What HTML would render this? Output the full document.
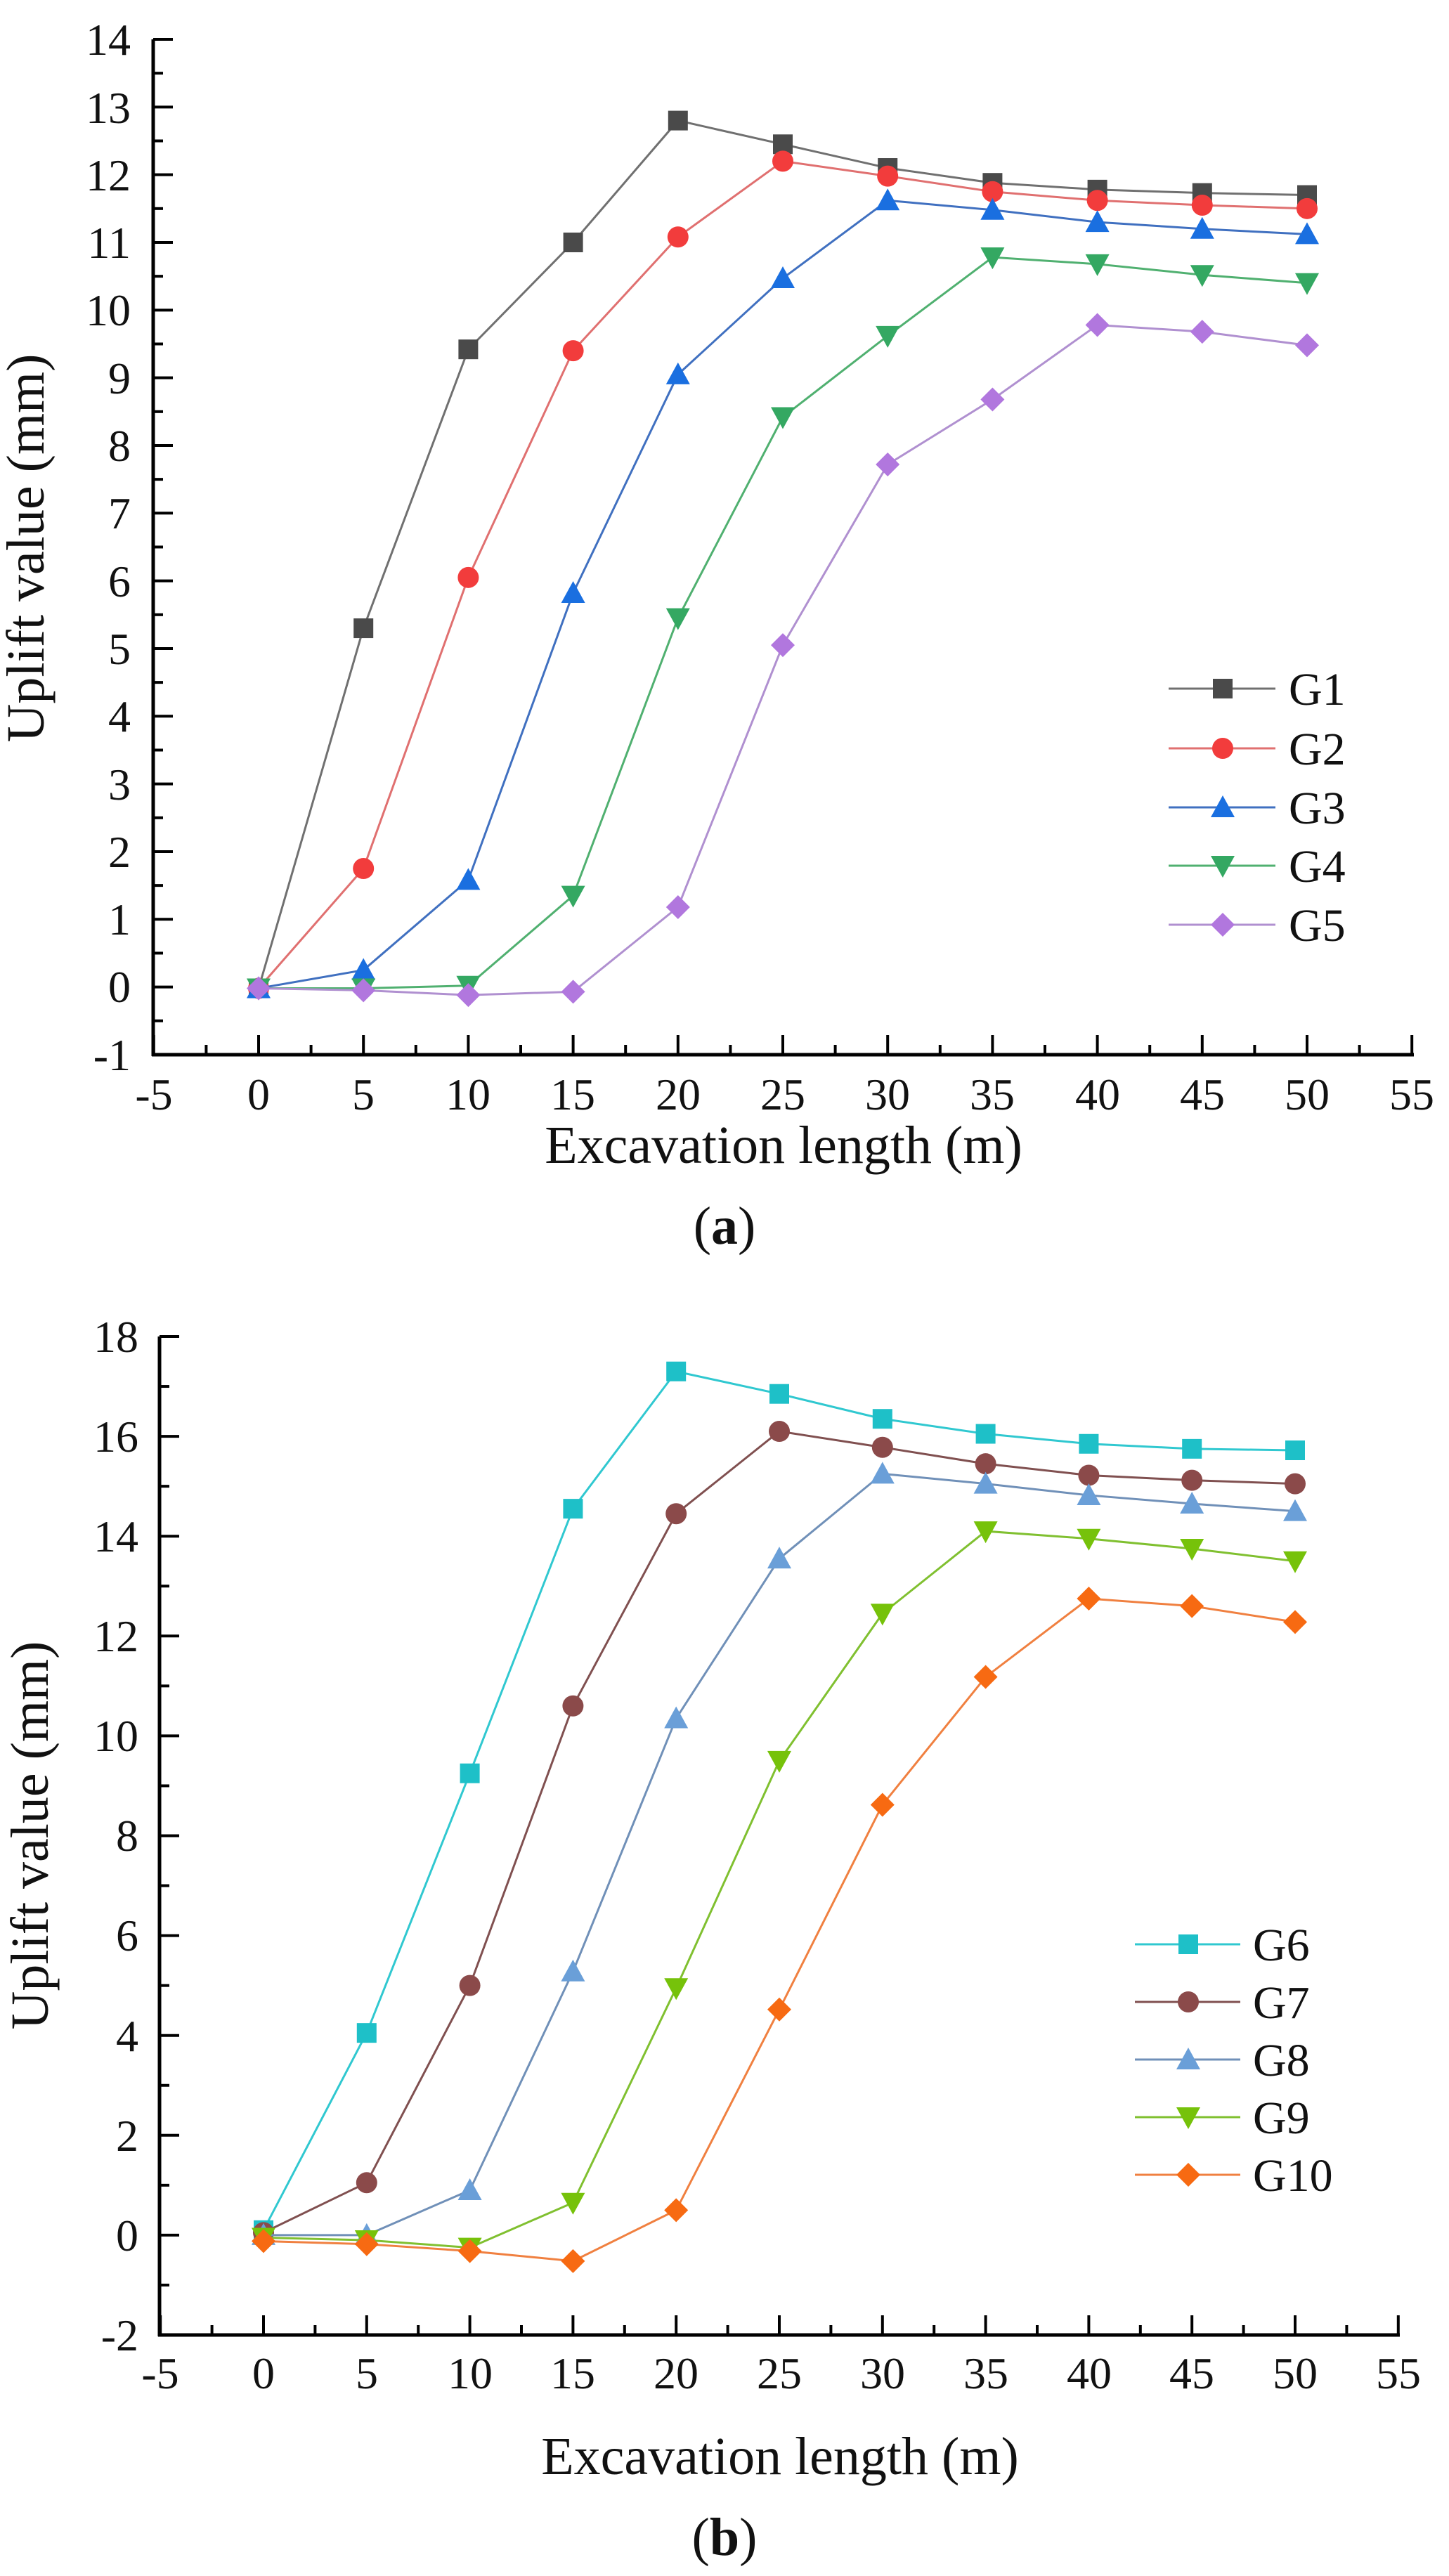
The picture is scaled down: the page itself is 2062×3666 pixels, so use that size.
<!DOCTYPE html>
<html><head><meta charset="utf-8"><style>
html,body{margin:0;padding:0;background:#fff;}
svg{display:block;}
text{font-family:"Liberation Serif","DejaVu Serif",serif;}
</style></head><body>
<svg id="s" width="2062" height="3666" xmlns="http://www.w3.org/2000/svg" font-family="Liberation Serif, DejaVu Serif, serif">
<g font-size="64" fill="#111">
<g text-anchor="end">
<text x="186" y="78">14</text><text x="186" y="175">13</text><text x="186" y="271">12</text><text x="186" y="367">11</text>
<text x="186" y="463">10</text><text x="186" y="560">9</text><text x="186" y="656">8</text><text x="186" y="752">7</text>
<text x="186" y="849">6</text><text x="186" y="945">5</text><text x="186" y="1041">4</text><text x="186" y="1138">3</text>
<text x="186" y="1234">2</text><text x="186" y="1330">1</text><text x="186" y="1426">0</text><text x="186" y="1523">-1</text>
</g>
<g text-anchor="middle">
<text x="219" y="1579">-5</text><text x="368" y="1579">0</text><text x="517" y="1579">5</text><text x="666" y="1579">10</text>
<text x="815" y="1579">15</text><text x="965" y="1579">20</text><text x="1114" y="1579">25</text><text x="1263" y="1579">30</text>
<text x="1412" y="1579">35</text><text x="1562" y="1579">40</text><text x="1711" y="1579">45</text><text x="1860" y="1579">50</text><text x="2009" y="1579">55</text>
</g>
<g text-anchor="end">
<text x="197" y="1924">18</text><text x="197" y="2066">16</text><text x="197" y="2208">14</text><text x="197" y="2350">12</text>
<text x="197" y="2492">10</text><text x="197" y="2634">8</text><text x="197" y="2776">6</text><text x="197" y="2919">4</text>
<text x="197" y="3061">2</text><text x="197" y="3203">0</text><text x="197" y="3345">-2</text>
</g>
<g text-anchor="middle">
<text x="228" y="3399">-5</text><text x="375" y="3399">0</text><text x="522" y="3399">5</text><text x="669" y="3399">10</text>
<text x="815" y="3399">15</text><text x="962" y="3399">20</text><text x="1109" y="3399">25</text><text x="1256" y="3399">30</text>
<text x="1403" y="3399">35</text><text x="1550" y="3399">40</text><text x="1696" y="3399">45</text><text x="1843" y="3399">50</text><text x="1990" y="3399">55</text>
</g>
</g>
<g font-size="76" fill="#111" text-anchor="middle">
<text x="1115" y="1655">Excavation length (m)</text>
<text x="1110" y="3521">Excavation length (m)</text>
<text transform="translate(62,780) rotate(-90)">Uplift value (mm)</text>
<text transform="translate(68,2612) rotate(-90)">Uplift value (mm)</text>
<text x="1031" y="1770">(<tspan font-weight="bold">a</tspan>)</text>
<text x="1031" y="3636">(<tspan font-weight="bold">b</tspan>)</text>
</g>
<g font-size="66" fill="#111">
<text x="1834" y="1003">G1</text><text x="1834" y="1088">G2</text><text x="1834" y="1172">G3</text><text x="1834" y="1255">G4</text><text x="1834" y="1339">G5</text>
<text x="1783" y="2790">G6</text><text x="1783" y="2872">G7</text><text x="1783" y="2954">G8</text><text x="1783" y="3036">G9</text><text x="1783" y="3118">G10</text>
</g>
<g id="dyn"></g>
</svg>
<script>
var NS="http://www.w3.org/2000/svg",g=document.getElementById('dyn');
function el(t,a){var e=document.createElementNS(NS,t);for(var k in a)e.setAttribute(k,a[k]);g.appendChild(e);return e;}
function axes(x0,y0,x1,y1,xm,ym){
 el('line',{x1:x0,y1:y0,x2:x0,y2:y1+2,stroke:'#000','stroke-width':5});
 el('line',{x1:x0-2,y1:y1,x2:x1,y2:y1,stroke:'#000','stroke-width':5});
 xm.forEach(function(p,i){var L=(i%2==0)?28:14;el('line',{x1:p,y1:y1,x2:p,y2:y1-L,stroke:'#000','stroke-width':4});});
 ym.forEach(function(p,i){var L=(i%2==0)?28:14;el('line',{x1:x0,y1:p,x2:x0+L,y2:p,stroke:'#000','stroke-width':4});});
}
function marker(type,x,y,c,s){
 s=s||14;
 if(type=='sq')el('rect',{x:x-s,y:y-s,width:2*s,height:2*s,fill:c});
 else if(type=='ci')el('circle',{cx:x,cy:y,r:s+1,fill:c});
 else if(type=='up')el('polygon',{points:(x)+','+(y-s-3)+' '+(x-s-3)+','+(y+s)+' '+(x+s+3)+','+(y+s),fill:c});
 else if(type=='dn')el('polygon',{points:(x)+','+(y+s+3)+' '+(x-s-3)+','+(y-s)+' '+(x+s+3)+','+(y-s),fill:c});
 else el('polygon',{points:x+','+(y-s-3)+' '+(x+s+3)+','+y+' '+x+','+(y+s+3)+' '+(x-s-3)+','+y,fill:c});
}
var XA=function(v){return 368+v*29.84},YA=function(v){return 56+(14-v)*96.33};
var xm=[],ym=[];for(var v=-5;v<=55;v+=2.5)xm.push(XA(v));for(v=14;v>=-1;v-=0.5)ym.push(YA(v));
axes(218,56,2012,1501,xm,ym);
var A=[
['sq','#4a4a4a','#707070',[-0.02,5.3,9.42,11.0,12.8,12.45,12.1,11.88,11.78,11.73,11.7]],
['ci','#f23c3c','#e07070',[-0.02,1.75,6.05,9.4,11.08,12.2,11.98,11.75,11.62,11.55,11.5]],
['up','#1a6fe0','#4070c0',[-0.02,0.25,1.58,5.82,9.05,10.47,11.62,11.48,11.3,11.2,11.12]],
['dn','#34a862','#50b070',[-0.02,-0.02,0.02,1.35,5.45,8.42,9.62,10.78,10.68,10.52,10.4]],
['di','#b177de','#b090d0',[-0.02,-0.05,-0.12,-0.07,1.18,5.05,7.72,8.68,9.78,9.68,9.48]]];
var LA=[980,1065,1149,1232,1316];
A.forEach(function(s,i){var pts=s[3].map(function(v,j){return XA(j*5)+','+YA(v)}).join(' ');
 el('polyline',{points:pts,fill:'none',stroke:s[2],'stroke-width':3});
 s[3].forEach(function(v,j){marker(s[0],XA(j*5),YA(v),s[1]);});
 el('line',{x1:1663,y1:LA[i],x2:1815,y2:LA[i],stroke:s[2],'stroke-width':3});marker(s[0],1740,LA[i],s[1]);});
var XB=function(v){return 375+v*29.36},YB=function(v){return 1902+(18-v)*71.05};
xm=[];ym=[];for(v=-5;v<=55;v+=2.5)xm.push(XB(v));for(v=18;v>=-2;v-=1)ym.push(YB(v));
axes(227,1902,1992,3323,xm,ym);
var B=[
['sq','#1ec0c8','#30c8d0',[0.1,4.05,9.25,14.55,17.3,16.85,16.35,16.05,15.85,15.75,15.72]],
['ci','#8b4a4a','#805050',[0.05,1.05,5.0,10.6,14.45,16.1,15.78,15.45,15.22,15.12,15.05]],
['up','#6a9fd8','#7090b8',[0,0,0.9,5.28,10.35,13.55,15.25,15.05,14.82,14.65,14.5]],
['dn','#76c20a','#80c030',[-0.05,-0.1,-0.25,0.65,4.95,9.5,12.45,14.1,13.95,13.75,13.5]],
['di','#f76a12','#f08040',[-0.12,-0.18,-0.32,-0.52,0.5,4.52,8.62,11.18,12.75,12.6,12.28]]];
var LB=[2767,2849,2931,3013,3095];
B.forEach(function(s,i){var pts=s[3].map(function(v,j){return XB(j*5)+','+YB(v)}).join(' ');
 el('polyline',{points:pts,fill:'none',stroke:s[2],'stroke-width':3});
 s[3].forEach(function(v,j){marker(s[0],XB(j*5),YB(v),s[1]);});
 el('line',{x1:1615,y1:LB[i],x2:1765,y2:LB[i],stroke:s[2],'stroke-width':3});marker(s[0],1691,LB[i],s[1]);});
</script>
</body></html>
